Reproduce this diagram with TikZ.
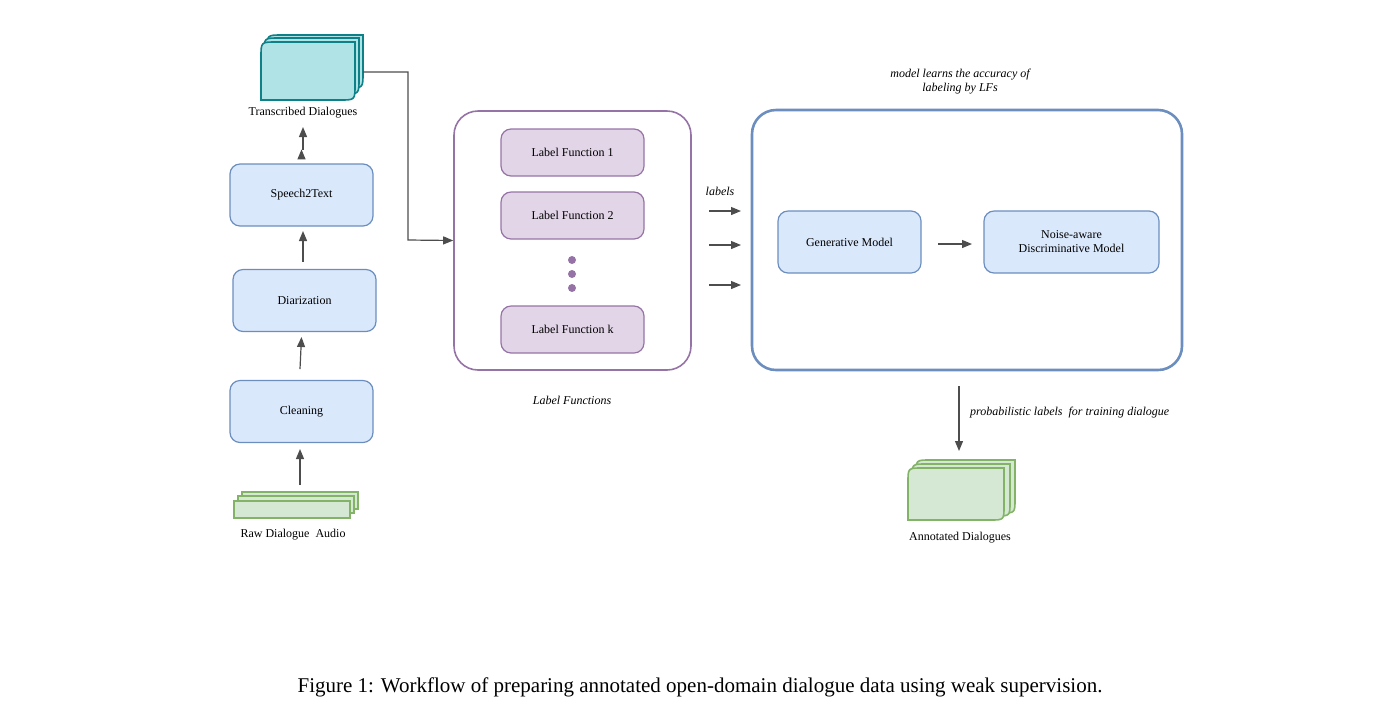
\documentclass[tikz,border=0pt]{standalone}
\usepackage{fontspec}
\setmainfont{Liberation Serif}
\usetikzlibrary{arrows.meta}
\definecolor{bfill}{HTML}{DAE8FC}\definecolor{bline}{HTML}{6C8EBF}
\definecolor{pfill}{HTML}{E1D5E7}\definecolor{pline}{HTML}{9673A6}
\definecolor{gfill}{HTML}{D5E8D4}\definecolor{gline}{HTML}{82B366}
\definecolor{tfill}{HTML}{B0E3E6}\definecolor{tline}{HTML}{0E8088}
\definecolor{arr}{HTML}{4D4D4D}
\newcommand\docsheet[6]{% x1 y1 x2 y2 style r
  \draw[#5] (#1,#4) -- (#1,#2+#6) .. controls (#1,#2) .. (#1+#6,#2) -- (#3,#2) -- (#3,#4-#6) .. controls (#3,#4) .. (#3-#6,#4) -- cycle;}
\begin{document}
\begin{tikzpicture}[x=0.5pt,y=-0.5pt,
  txt/.style={font=\fontsize{6}{7}\selectfont},
  itx/.style={font=\fontsize{6}{7}\selectfont\itshape},
  bbox/.style={draw=bline,fill=bfill,rounded corners=5pt,semithick,minimum height=31pt,txt,align=center},
  pbox/.style={draw=pline,fill=pfill,rounded corners=5pt,semithick,minimum width=71.5pt,minimum height=23.5pt,txt},
  conn/.style={draw=arr,semithick,-{Triangle[length=5pt,width=4pt]}},
  tsheet/.style={draw=tline,fill=tfill,thick},
  gsheet/.style={draw=gline,fill=gfill,thick}]
\useasboundingbox (0,0) rectangle (1400,719);
% Transcribed stack
\docsheet{267}{35}{363}{88}{tsheet}{15}
\docsheet{264}{38}{359}{94}{tsheet}{15}
\docsheet{261}{42}{355}{100}{tsheet}{15}
\coordinate (tr) at (363,72);
\node[txt] (tlab) at (303,113) {Transcribed Dialogues};
\node[bbox,minimum width=71.5pt] (s2t) at (301.5,195) {Speech2Text};
\node[bbox,minimum width=71.5pt] (dia) at (304.5,300.5) {Diarization};
\node[bbox,minimum width=71.5pt] (cle) at (301.5,411.5) {Cleaning};
% Raw audio stack
\draw[gsheet] (242,492) rectangle (358,509);
\draw[gsheet] (238,496) rectangle (354,513);
\draw[gsheet] (234,501) rectangle (350,518);
\coordinate (rawtop) at (300,485);
\node[txt] (rlab) at (293,535) {Raw Dialogue\ \ Audio};
\draw[conn] (s2t.north) ++(0,-14) coordinate (a1) ; 
\draw[conn] (303,150) -- (303,127);
\draw[conn] (dia.north) ++(-1.5,-7) -- (303,231);
\draw[conn] (300,369) -- (cle.north |- 0,337);
\draw[conn] (rawtop) -- (300,449);
% LF container
\node[draw=pline,thick,rounded corners=12pt,minimum width=118.5pt,minimum height=129.5pt] (lfc) at (572.5,240.5) {};
\node[pbox] (lf1) at (572.5,152.5) {Label Function 1};
\node[pbox] (lf2) at (572.5,215.5) {Label Function 2};
\node[pbox] (lfk) at (572.5,329.5) {Label Function k};
\foreach \yy in {260,274,288} \fill[pline] (572,\yy) circle (2pt);
\node[itx] (lfl) at (572,400) {Label Functions};
\draw[conn] (tr) -- (408,72) -- (408,240) -- (lfc.west);
% arrows labels
\coordinate (l1) at (709,211); \coordinate (l2) at (709,245); \coordinate (l3) at (709,285);
\draw[conn] (l1) -- (741,211);
\draw[conn] (l2) -- (741,245);
\draw[conn] (l3) -- (741,285);
\node[itx] (lab) at (720,191) {labels};
% big box
\node[draw=bline,line width=1.3pt,rounded corners=12pt,minimum width=215pt,minimum height=130pt] (big) at (967,240) {};
\node[bbox,minimum width=71.5pt] (gen) at (849.5,242) {Generative Model};
\node[bbox,minimum width=87.5pt] (disc) at (1071.5,242) {Noise-aware\\Discriminative Model};
\draw[conn] (938,244) -- (972,244);
\node[itx,align=center] (note) at (960,82) {model learns the accuracy of\\labeling by LFs};
% output
\coordinate (bo) at (959,386);
\draw[conn] (bo) -- (959,451);
\node[itx,anchor=west] (plab) at (963,413) {probabilistic labels\ \ for training dialogue};
\docsheet{916}{460}{1015}{513}{gsheet}{14}
\docsheet{912}{464}{1010}{516}{gsheet}{14}
\docsheet{908}{468}{1004}{520}{gsheet}{14}
\node[txt] (alab) at (960,538) {Annotated Dialogues};
\node[font=\fontsize{10.5}{12}\selectfont] (cap) at (700,687) {Figure 1: Workflow of preparing annotated open-domain dialogue data using weak supervision.};
\end{tikzpicture}
\end{document}
